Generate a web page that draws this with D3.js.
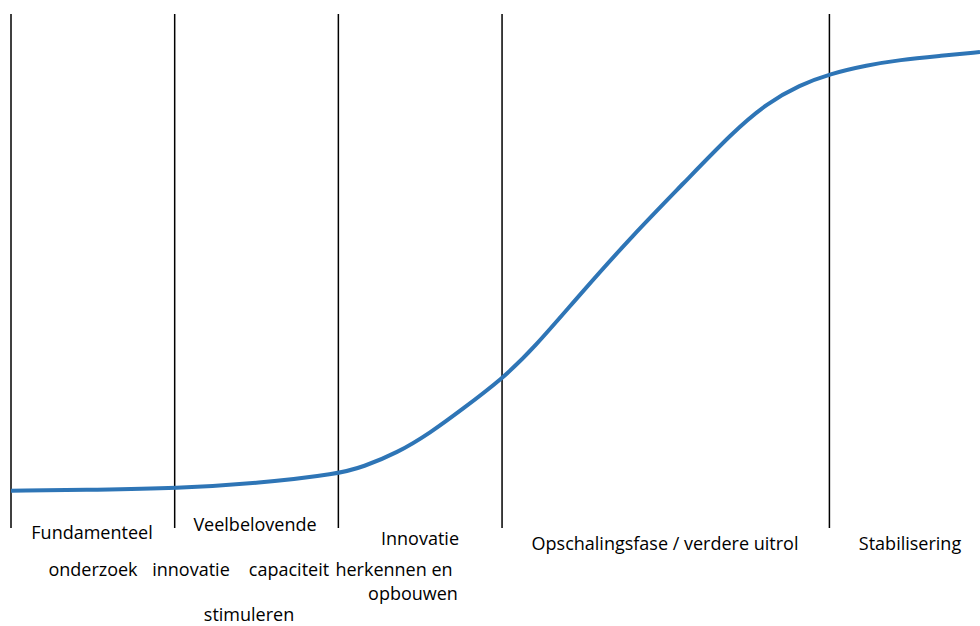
<!DOCTYPE html>
<html>
<head>
<meta charset="utf-8">
<script src="https://cdn.jsdelivr.net/npm/d3@7"></script>
<style>
  body { margin: 0; background: #fff; }
  text { font-family: "Open Sans", sans-serif; fill: #000; }
</style>
</head>
<body>
<div id="chart"></div>
<script>
// phase boundaries (in phase units) and the S-curve
var boundaries = [0, 1, 2, 3, 5]
var curveX = [0, 0.54, 1, 1.52, 2, 2.15, 2.36, 2.56, 2.76, 3, 3.19, 3.49, 3.8, 4.11, 4.41, 4.62, 4.82, 5, 5.23, 5.43, 5.67, 5.92]
var curveY = [0.3, 0.5, 0.8, 2.0, 4.1, 5.7, 8.9, 13.4, 18.9, 25.7, 32.5, 45.5, 58.4, 70.2, 81.8, 88.4, 92.5, 95.0, 97.0, 98.2, 99.1, 100]

var labelLines = ["Fundamenteel", "Veelbelovende", "Innovatie",
  "onderzoek", "innovatie", "capaciteit", "herkennen en", "opbouwen", "stimuleren",
  "Opschalingsfase / verdere uitrol", "Stabilisering"]

// layout of the label lines: centre x, baseline y (px)
var labelPos = [[92, 539], [255, 531], [420, 545],
  [93, 576], [191, 576], [289, 576], [394, 576], [413, 600], [249, 621],
  [665, 550], [910, 550]]

width = 980
height = 626

var svg = d3.select("#chart").append("svg")
    .attr("width", width)
    .attr("height", height)

var xScale = d3.scaleLinear()
    .domain([0, 5.92])
    .range([11, 980])

var yScale = d3.scaleLinear()
    .domain([0, 100])
    .range([492, 52])

// vertical phase separators
svg.selectAll(".sep").data(boundaries)
    .enter().append("line")
    .attr("class", "sep")
    .attr("x1", function(d){ return xScale(d) })
    .attr("x2", function(d){ return xScale(d) })
    .attr("y1", 14)
    .attr("y2", 528)
    .style("stroke", "#000")
    .style("stroke-width", 1.5)

var pts = curveX.map(function(x, i){ return [x, curveY[i]] })

var line = d3.line()
    .x(function(d){ return xScale(d[0]) })
    .y(function(d){ return yScale(d[1]) })
    .curve(d3.curveBasis)

svg.append("path")
    .datum(pts)
    .attr("d", line)
    .style("fill", "none")
    .style("stroke", "#2E75B6")
    .style("stroke-width", 4)

svg.selectAll(".lbl").data(labelLines)
    .enter().append("text")
    .attr("class", "lbl")
    .attr("x", function(d, i){ return labelPos[i][0] })
    .attr("y", function(d, i){ return labelPos[i][1] })
    .attr("text-anchor", "middle")
    .style("font-size", "18px")
    .text(function(d){ return d })
</script>
</body>
</html>
